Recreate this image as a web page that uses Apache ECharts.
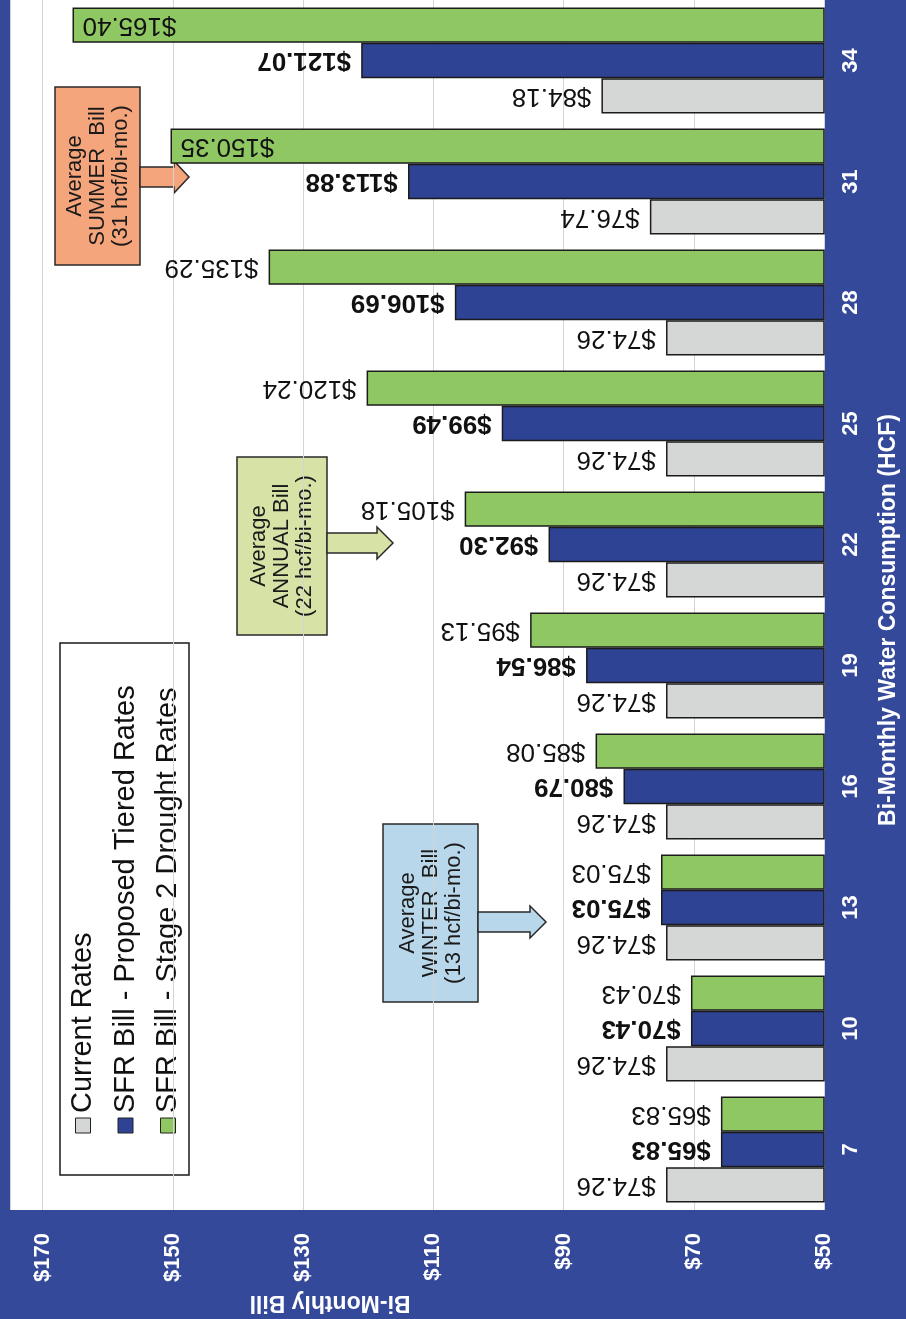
<!DOCTYPE html>
<html>
<head>
<meta charset="utf-8">
<script src="https://cdn.jsdelivr.net/npm/echarts@6/dist/echarts.min.js"></script>
<style>
  html, body { margin: 0; padding: 0; background: #35499a; }
  #chart { width: 906px; height: 1319px; }
</style>
</head>
<body>
<div id="chart"></div>
<script>
// Bi-monthly water consumption (HCF) and the bill under each rate structure
const consumption = ['7', '10', '13', '16', '19', '22', '25', '28', '31', '34'];
const currentRates = [74.26, 74.26, 74.26, 74.26, 74.26, 74.26, 74.26, 74.26, 76.74, 84.18];
const proposedTiered = [65.83, 70.43, 75.03, 80.79, 86.54, 92.30, 99.49, 106.69, 113.88, 121.07];
const stage2Drought = [65.83, 70.43, 75.03, 85.08, 95.13, 105.18, 120.24, 135.29, 150.35, 165.40];
const seriesNames = ['Current Rates', 'SFR Bill - Proposed Tiered Rates', 'SFR Bill - Stage 2 Drought Rates'];
const billTicks = [50, 70, 90, 110, 130, 150, 170];

const FONT = "'Liberation Sans', Arial, sans-serif";
const BG = '#35499a';
const COLORS = { current: '#d5d7d7', proposed: '#2f4395', drought: '#8fc862' };
const EDGE = '#1b1b1b';

const chart = echarts.init(document.getElementById('chart'), null, { renderer: 'canvas' });

// Labels of bars that would run past the plot edge go inside the bar end
function withLabels(values) {
  return values.map(v => v > 145
    ? { value: v, label: { position: 'insideLeft', align: 'right' } }
    : v);
}

function barSeries(name, values, color, bold) {
  return {
    name: name,
    type: 'bar',
    data: withLabels(values),
    barGap: '0%',
    barCategoryGap: '12.4%',
    itemStyle: { color: color, borderColor: EDGE, borderWidth: 1.5 },
    label: {
      show: true,
      position: 'left',
      distance: 10,
      rotate: 180,
      align: 'left',
      verticalAlign: 'middle',
      formatter: p => '$' + Number(p.value).toFixed(2),
      fontFamily: FONT,
      fontSize: 26,
      fontWeight: bold ? 'bold' : 'normal',
      color: '#111'
    },
    emphasis: { disabled: true },
    animation: false
  };
}

// Annotation box: rotated group whose local x runs up the page
function noteBox(left, bottom, w, h, fill, text) {
  return {
    type: 'group',
    x: left, y: bottom,
    rotation: Math.PI / 2,
    children: [
      { type: 'rect', shape: { x: 0, y: 0, width: w, height: h },
        style: { fill: fill, stroke: '#2a2a2a', lineWidth: 1.5 } },
      { type: 'text', x: w / 2, y: h / 2,
        style: { text: text, fill: '#1a1a1a', font: '22px ' + FONT, lineHeight: 23,
                 textAlign: 'center', textVerticalAlign: 'middle' } }
    ]
  };
}

function arrow(x0, xBase, xTip, cy, fill) {
  const s = 10, hd = 16;
  return {
    type: 'polygon',
    shape: { points: [[x0, cy - s], [xBase, cy - s], [xBase, cy - hd], [xTip, cy],
                      [xBase, cy + hd], [xBase, cy + s], [x0, cy + s]] },
    style: { fill: fill, stroke: '#2a2a2a', lineWidth: 1.5 }
  };
}

const legendColors = [COLORS.current, COLORS.proposed, COLORS.drought];
const legendChildren = [
  { type: 'rect', shape: { x: 0, y: 0, width: 532, height: 129 },
    style: { fill: '#fff', stroke: '#1a1a1a', lineWidth: 1.5 } }
];
seriesNames.forEach((n, i) => {
  const cy = 23 + i * 42.5;
  legendChildren.push({ type: 'rect', shape: { x: 42, y: cy - 7.5, width: 15, height: 15 },
    style: { fill: legendColors[i], stroke: '#222', lineWidth: 1 } });
  legendChildren.push({ type: 'text', x: 62, y: cy,
    style: { text: n, fill: '#111', font: '29px ' + FONT, textAlign: 'left', textVerticalAlign: 'middle' } });
});

const option = {
  backgroundColor: BG,
  animation: false,
  grid: { left: 10, right: 82, top: 0, bottom: 109, show: true, backgroundColor: '#ffffff', borderWidth: 0 },
  xAxis: {
    type: 'value',
    inverse: true,
    position: 'bottom',
    min: 50,
    max: 175,
    interval: 20,
    axisLine: { show: false },
    axisTick: { show: false },
    splitLine: { show: true, lineStyle: { color: '#d4d4d4', width: 1 } },
    axisLabel: {
      rotate: 90,
      margin: 23,
      color: '#ffffff',
      fontFamily: FONT,
      fontSize: 22,
      fontWeight: 'bold',
      formatter: v => billTicks.includes(v) ? '$' + v : ''
    }
  },
  yAxis: {
    type: 'category',
    position: 'right',
    data: consumption,
    axisLine: { show: false },
    axisTick: { show: false },
    axisLabel: {
      rotate: 90,
      margin: 16,
      color: '#ffffff',
      fontFamily: FONT,
      fontSize: 22,
      fontWeight: 'bold'
    }
  },
  series: [
    barSeries(seriesNames[2], stage2Drought, COLORS.drought, false),
    barSeries(seriesNames[1], proposedTiered, COLORS.proposed, true),
    barSeries(seriesNames[0], currentRates, COLORS.current, false)
  ],
  graphic: [
    // axis titles
    { type: 'text', x: 889, y: 620, rotation: Math.PI / 2,
      style: { text: 'Bi-Monthly Water Consumption (HCF)', fill: '#ffffff',
               font: 'bold 23px ' + FONT, textAlign: 'center', textVerticalAlign: 'middle' } },
    { type: 'text', x: 330, y: 1302, rotation: Math.PI,
      style: { text: 'Bi-Monthly Bill', fill: '#ffffff',
               font: 'bold 23px ' + FONT, textAlign: 'center', textVerticalAlign: 'middle' } },
    // legend
    { type: 'group', x: 60, y: 1175, rotation: Math.PI / 2, children: legendChildren },
    // callouts
    noteBox(383, 1002, 178, 95, '#b9d7ea', 'Average\nWINTER  Bill\n(13 hcf/bi-mo.)'),
    arrow(478, 530, 546, 922, '#b9d7ea'),
    noteBox(237, 635, 178, 90, '#d6e2a6', 'Average\nANNUAL Bill\n(22 hcf/bi-mo.)'),
    arrow(327, 377, 393, 543, '#d6e2a6'),
    noteBox(55, 265, 178, 85, '#f5a57b', 'Average\nSUMMER  Bill\n(31 hcf/bi-mo.)'),
    arrow(140, 174, 189, 177, '#f5a57b')
  ]
};

chart.setOption(option);
</script>
</body>
</html>
